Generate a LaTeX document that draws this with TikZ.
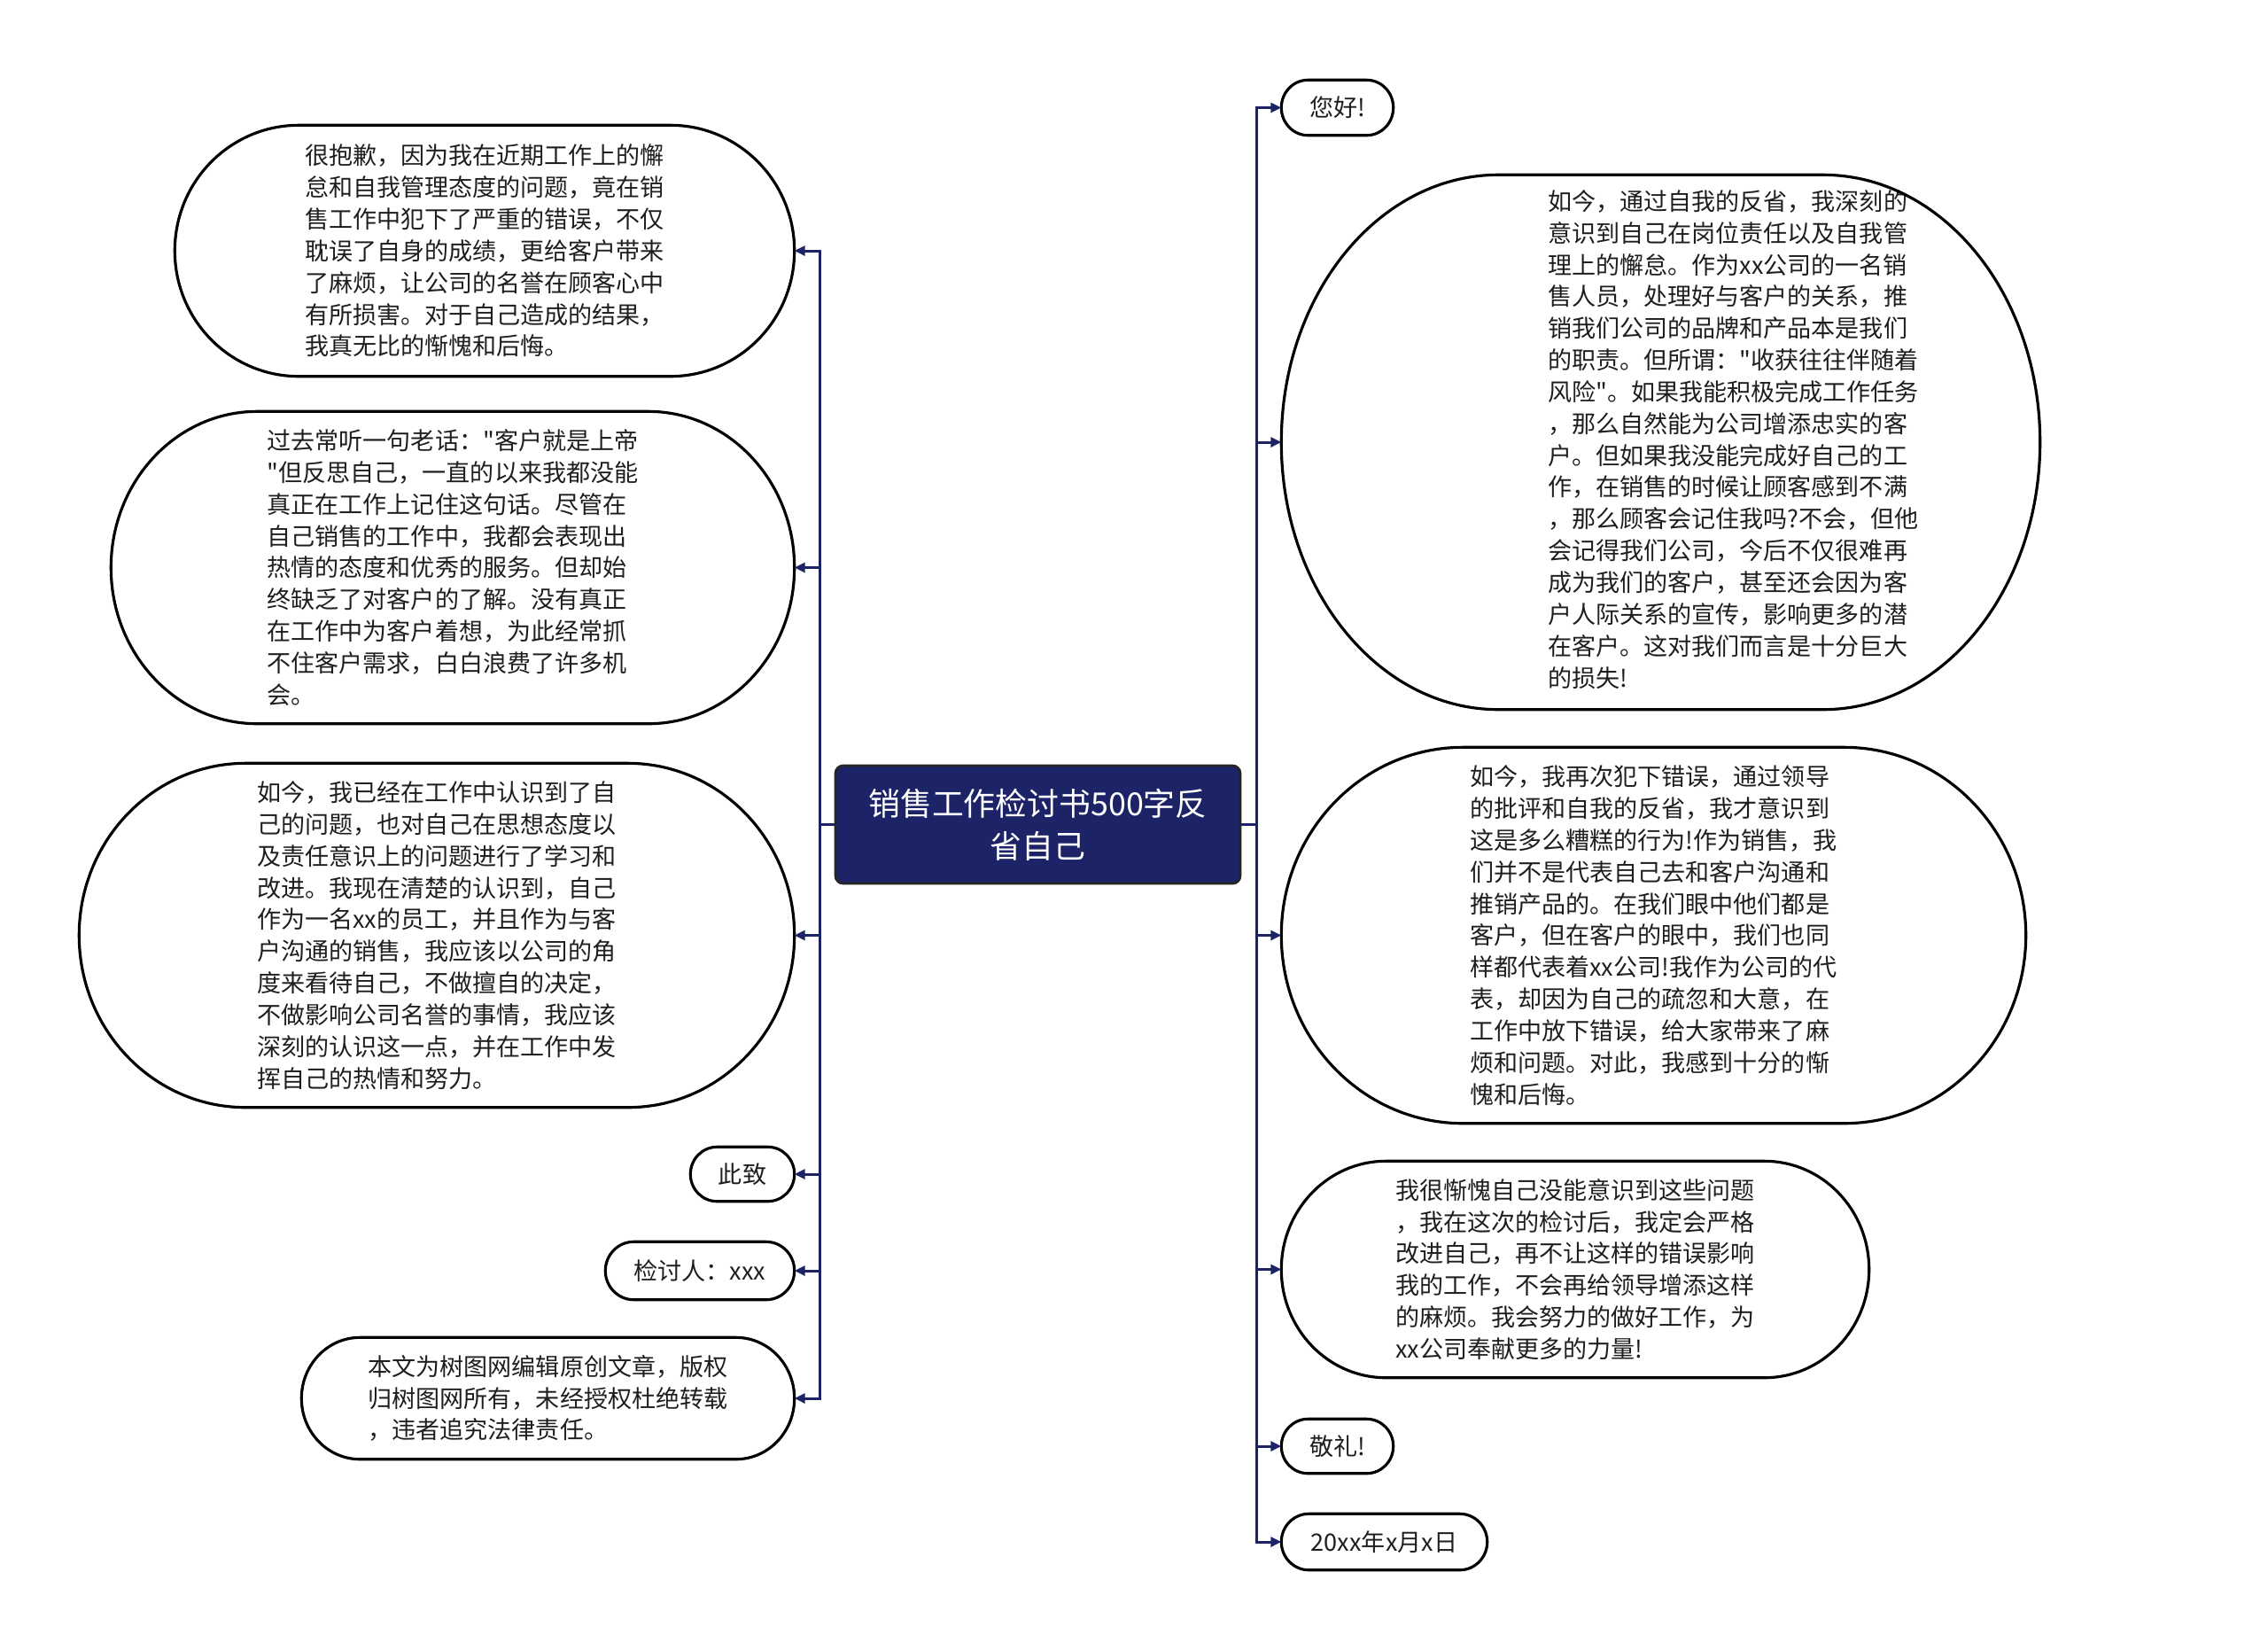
\documentclass[tikz,border=0pt]{standalone}
\usepackage{fontspec}
\usepackage{tikz}
\usetikzlibrary{calc}
\usetikzlibrary{positioning}
\usetikzlibrary {arrows.meta}
\usepackage{xcolor}
\newfontfamily\cjk{Noto Sans CJK SC}
\definecolor{navy}{RGB}{28,35,102}
\definecolor{ink}{RGB}{30,30,30}

% outline of a bubble: flat top and bottom, elliptic ends
\newcommand{\capsule}[2]{%
	\draw[rim] let \p1 = (#1.north east), \p2 = (#1.south west), \n1 = {(\y1-\y2)/2} in
		(\x2+#2, \y1) -- (\x1-#2, \y1)
		arc[start angle=90, end angle=-90, x radius=#2, y radius=\n1]
		-- (\x2+#2, \y2)
		arc[start angle=-90, end angle=-270, x radius=#2, y radius=\n1] -- cycle;
}

\begin{document}
\begin{tikzpicture}[
		root/.style = {rectangle, rounded corners=2.5pt, draw=black!85, fill=navy, line width=0.8pt,
			text=white, align=center, minimum width=4.57cm, minimum height=1.33cm,
			font=\cjk\fontsize{10.2pt}{13.6pt}\selectfont},
		bubble/.style = {rectangle, inner sep=0pt, align=left, text=ink,
			font=\cjk\fontsize{7.7pt}{10.2pt}\selectfont},
		rim/.style = {draw=black, line width=0.9pt},
		link/.style = {-{Triangle[length=1.2mm, width=1.1mm]}, draw=navy, line width=0.85pt},
		]
		\useasboundingbox (0,0) rectangle (25.6,-18.61);
		
		% === === Nodes === ===
		\node[root]	(root)	at	(11.715, -9.305)	{销售工作检讨书500字反\\省自己};
		
		% left side
		\node[bubble, minimum width=6.98cm, minimum height=2.82cm]	(l1)	at	(5.47, -2.83)	{很抱歉，因为我在近期工作上的懈\\怠和自我管理态度的问题，竟在销\\售工作中犯下了严重的错误，不仅\\耽误了自身的成绩，更给客户带来\\了麻烦，让公司的名誉在顾客心中\\有所损害。对于自己造成的结果，\\我真无比的惭愧和后悔。};
		\node[bubble, minimum width=7.70cm, minimum height=3.51cm]	(l2)	at	(5.11, -6.405)	{过去常听一句老话："客户就是上帝\\"但反思自己，一直的以来我都没能\\真正在工作上记住这句话。尽管在\\自己销售的工作中，我都会表现出\\热情的态度和优秀的服务。但却始\\终缺乏了对客户的了解。没有真正\\在工作中为客户着想，为此经常抓\\不住客户需求，白白浪费了许多机\\会。};
		\node[bubble, minimum width=8.06cm, minimum height=3.87cm]	(l3)	at	(4.93, -10.555)	{如今，我已经在工作中认识到了自\\己的问题，也对自己在思想态度以\\及责任意识上的问题进行了学习和\\改进。我现在清楚的认识到，自己\\作为一名xx的员工，并且作为与客\\户沟通的销售，我应该以公司的角\\度来看待自己，不做擅自的决定，\\不做影响公司名誉的事情，我应该\\深刻的认识这一点，并在工作中发\\挥自己的热情和努力。};
		\node[bubble, minimum width=1.16cm, minimum height=0.60cm]	(l4)	at	(8.38, -13.25)	{此致};
		\node[bubble, minimum width=2.12cm, minimum height=0.64cm]	(l5)	at	(7.90, -14.34)	{检讨人：xxx};
		\node[bubble, minimum width=5.55cm, minimum height=1.36cm]	(l6)	at	(6.185, -15.78)	{本文为树图网编辑原创文章，版权\\归树图网所有，未经授权杜绝转载\\，违者追究法律责任。};
		
		% right side
		\node[bubble, minimum width=1.25cm, minimum height=0.61cm]	(r1)	at	(15.095, -1.215)	{您好!};
		\node[bubble, minimum width=8.55cm, minimum height=6.02cm]	(r2)	at	(18.745, -4.99)	{\hspace*{1.64cm}\begin{tabular}{@{}l@{}}如今，通过自我的反省，我深刻的\\意识到自己在岗位责任以及自我管\\理上的懈怠。作为xx公司的一名销\\售人员，处理好与客户的关系，推\\销我们公司的品牌和产品本是我们\\的职责。但所谓："收获往往伴随着\\风险"。如果我能积极完成工作任务\\，那么自然能为公司增添忠实的客\\户。但如果我没能完成好自己的工\\作，在销售的时候让顾客感到不满\\，那么顾客会记住我吗?不会，但他\\会记得我们公司，今后不仅很难再\\成为我们的客户，甚至还会因为客\\户人际关系的宣传，影响更多的潜\\在客户。这对我们而言是十分巨大\\的损失!\end{tabular}};
		\node[bubble, minimum width=8.39cm, minimum height=4.23cm]	(r3)	at	(18.665, -10.555)	{如今，我再次犯下错误，通过领导\\的批评和自我的反省，我才意识到\\这是多么糟糕的行为!作为销售，我\\们并不是代表自己去和客户沟通和\\推销产品的。在我们眼中他们都是\\客户，但在客户的眼中，我们也同\\样都代表着xx公司!我作为公司的代\\表，却因为自己的疏忽和大意，在\\工作中放下错误，给大家带来了麻\\烦和问题。对此，我感到十分的惭\\愧和后悔。};
		\node[bubble, minimum width=6.62cm, minimum height=2.43cm]	(r4)	at	(17.78, -14.325)	{我很惭愧自己没能意识到这些问题\\，我在这次的检讨后，我定会严格\\改进自己，再不让这样的错误影响\\我的工作，不会再给领导增添这样\\的麻烦。我会努力的做好工作，为\\xx公司奉献更多的力量!};
		\node[bubble, minimum width=1.25cm, minimum height=0.60cm]	(r5)	at	(15.095, -16.32)	{敬礼!};
		\node[bubble, minimum width=2.31cm, minimum height=0.62cm]	(r6)	at	(15.625, -17.40)	{20xx年x月x日};
		
		% outlines
		\capsule{l1}{1.40cm}
		\capsule{l2}{1.65cm}
		\capsule{l3}{1.88cm}
		\capsule{l4}{0.30cm}
		\capsule{l5}{0.32cm}
		\capsule{l6}{0.66cm}
		\capsule{r1}{0.30cm}
		\capsule{r2}{2.45cm}
		\capsule{r3}{2.05cm}
		\capsule{r4}{1.18cm}
		\capsule{r5}{0.30cm}
		\capsule{r6}{0.31cm}
		
		% === === Lines === ===
		\foreach \n in {l1, l2, l3, l4, l5, l6}
			\draw[link]	(root.west)	--	++(-0.16, 0)	|-	(\n.east);
		\foreach \n in {r1, r2, r3, r4, r5, r6}
			\draw[link]	(root.east)	--	++(0.17, 0)	|-	(\n.west);
		
	\end{tikzpicture}
\end{document}
